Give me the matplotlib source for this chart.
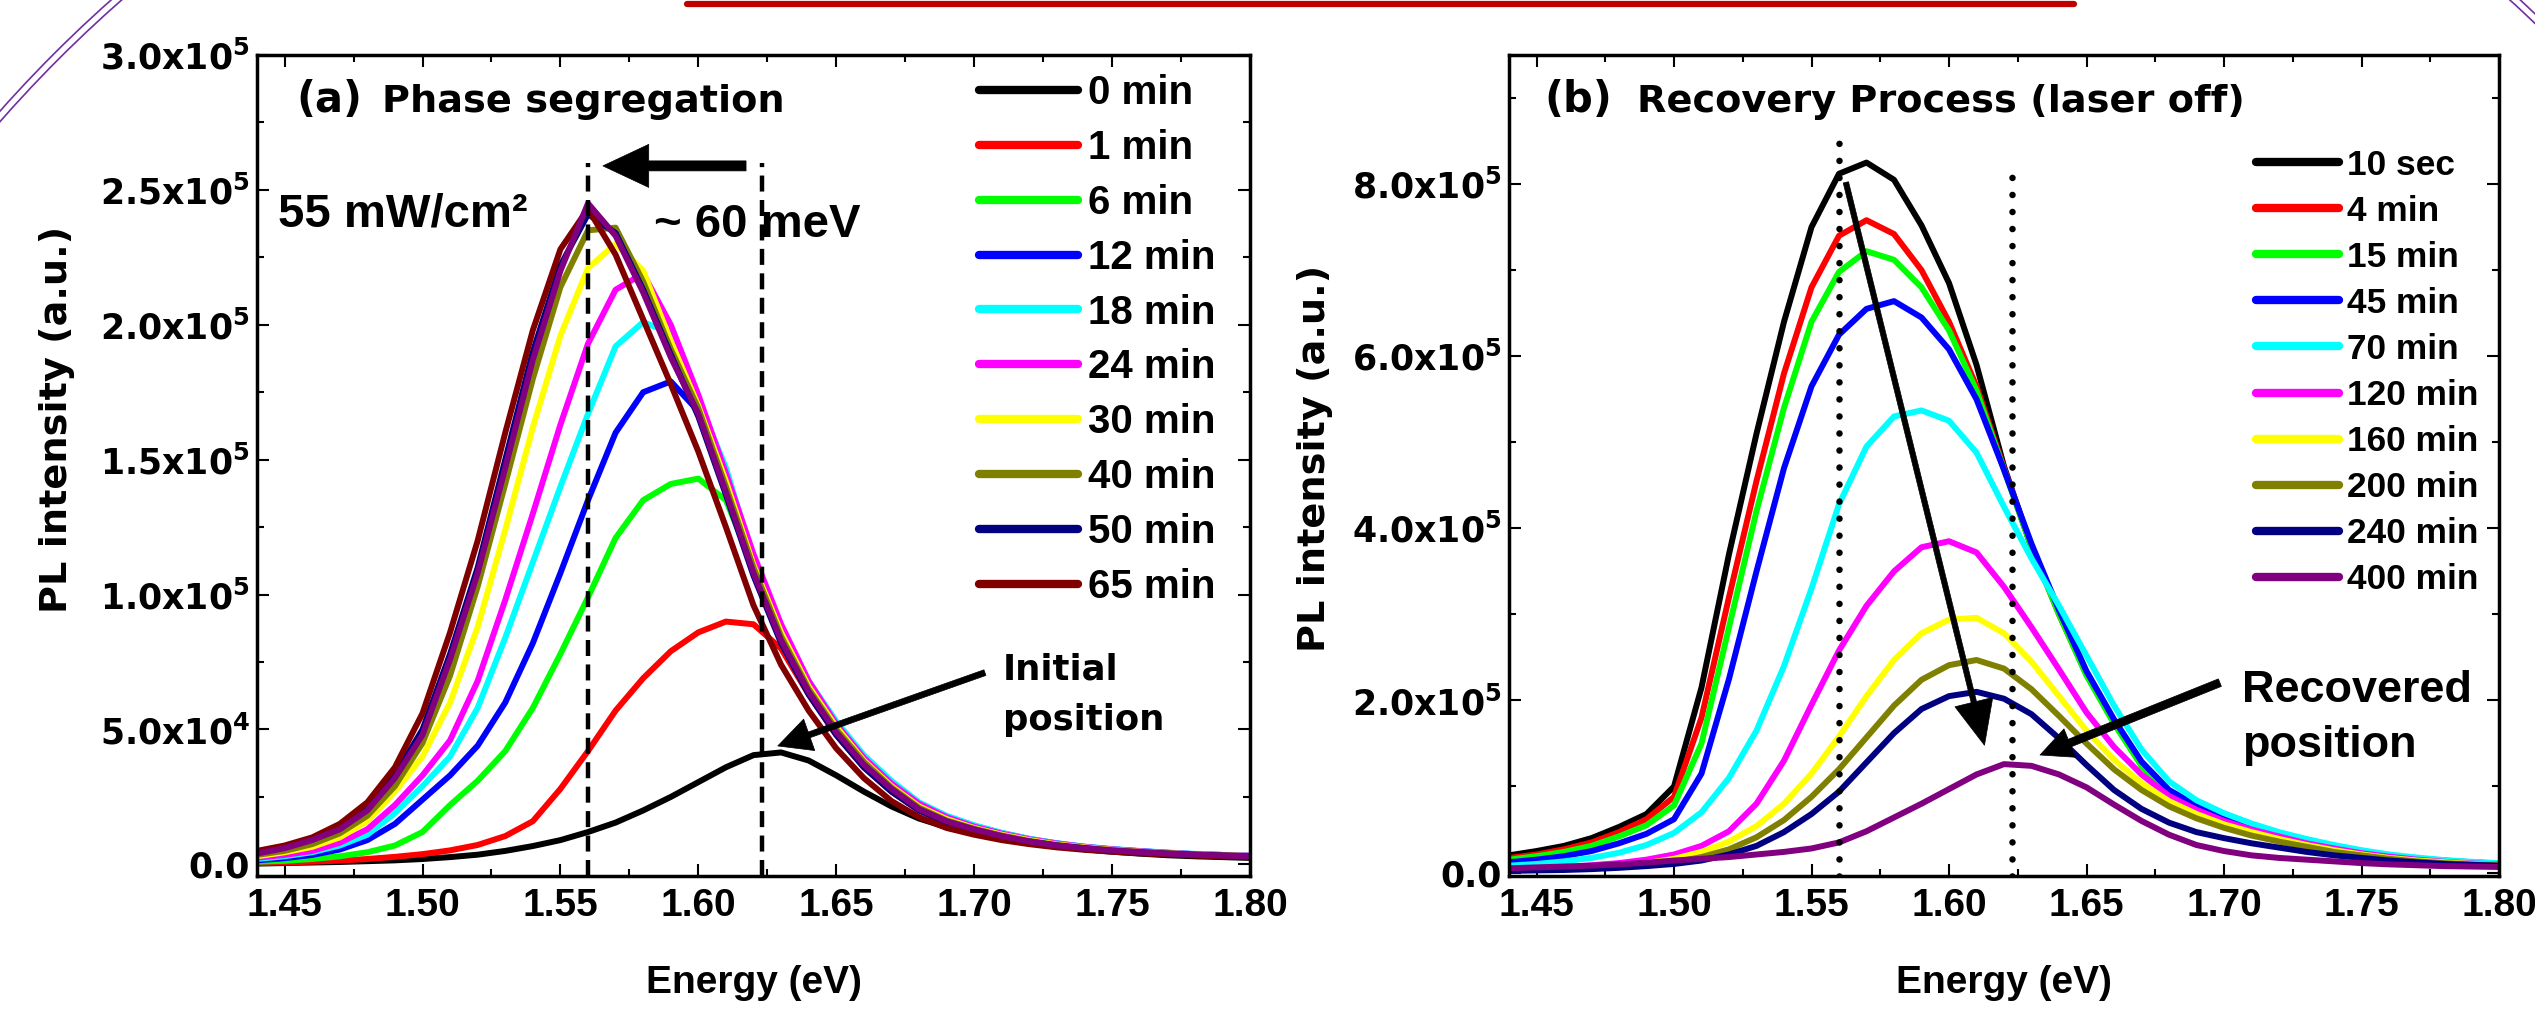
import numpy as np
import matplotlib
matplotlib.use('Agg')
import matplotlib.pyplot as plt
from matplotlib.patches import Arc
from matplotlib.lines import Line2D
from matplotlib.ticker import MultipleLocator, FuncFormatter
from matplotlib.transforms import IdentityTransform

plt.rcParams['font.family'] = ['Liberation Sans', 'DejaVu Sans']
plt.rcParams['font.weight'] = 'bold'
plt.rcParams['axes.labelweight'] = 'bold'
plt.rcParams['mathtext.fontset'] = 'dejavusans'
plt.rcParams['lines.solid_capstyle'] = 'round'

# photon energy grid (eV)
energy = [1.44, 1.45, 1.46, 1.47, 1.48, 1.49, 1.50, 1.51, 1.52, 1.53,
          1.54, 1.55, 1.56, 1.57, 1.58, 1.59, 1.60, 1.61, 1.62, 1.63,
          1.64, 1.65, 1.66, 1.67, 1.68, 1.69, 1.70, 1.71, 1.72, 1.73,
          1.74, 1.75, 1.76, 1.77, 1.78, 1.79, 1.80]

# (a) phase segregation under illumination, PL in units of 1e3 counts
seg_labels = ['0 min', '1 min', '6 min', '12 min', '18 min', '24 min',
              '30 min', '40 min', '50 min', '65 min']
seg_colors = ['#000000', '#FF0000', '#00FF00', '#0000FF', '#00FFFF',
              '#FF00FF', '#FFFF00', '#808000', '#000080', '#800000']
seg_0 = [0.3, 0.5, 0.7, 0.9, 1.2, 1.5, 2.0, 2.7, 3.6, 5.0, 6.8, 9.0, 12.0, 15.5,
         20.0, 25.0, 30.5, 36.0, 40.5, 41.5, 38.5, 33.0, 27.0, 21.5, 17.0, 13.8,
         11.5, 9.5, 8.0, 6.7, 5.6, 4.7, 4.0, 3.4, 3.0, 2.7, 2.4]
seg_1 = [0.5, 0.7, 1.0, 1.4, 2.0, 2.8, 3.8, 5.2, 7.2, 10.5, 16, 28, 42, 57, 69,
         79, 86, 90, 89, 80, 63, 48, 36, 27, 20, 15.5, 12.5, 10, 8.3, 7, 6, 5,
         4.4, 3.9, 3.5, 3.2, 3.0]
seg_6 = [1.0, 1.3, 2.0, 3.0, 4.5, 7.0, 12, 22, 31, 42, 58, 78, 99, 121, 135,
         141, 143, 135, 110, 85, 65.5, 50.5, 38, 29, 21.5, 16.7, 13.4, 10.8,
         8.8, 7.3, 6.2, 5.3, 4.7, 4.1, 3.7, 3.4, 3.1]
seg_12 = [1.5, 2.3, 3.5, 5.5, 9, 15, 24, 33, 44, 60, 82, 108, 135, 160, 175,
          179, 168, 144, 112, 87.5, 67.5, 52.5, 40, 30.5, 22.7, 17.8, 14.3,
          11.6, 9.4, 7.8, 6.5, 5.6, 4.9, 4.3, 3.8, 3.5, 3.2]
seg_18 = [2, 3, 4.5, 7, 11, 19, 29, 40, 58, 84, 112, 140, 167, 192, 201, 197,
          172, 147, 113, 88, 68, 53, 40.5, 31, 23, 18, 14.5, 11.7, 9.5, 7.8,
          6.6, 5.7, 5.0, 4.4, 3.9, 3.5, 3.2]
seg_24 = [2.5, 3.5, 5, 8, 13, 22, 33, 46, 68, 98, 130, 163, 193, 213, 219, 200,
          174, 145, 115, 89, 68, 52, 39.5, 30, 22.5, 17.5, 14, 11.4, 9.3, 7.7,
          6.5, 5.6, 4.9, 4.3, 3.8, 3.5, 3.2]
seg_30 = [3, 4.5, 6.5, 10, 16, 27, 40, 60, 88, 124, 162, 196, 221, 230, 220,
          194, 170, 142, 111, 86, 66, 51, 38.5, 29, 21.5, 16.8, 13.5, 11, 9,
          7.4, 6.3, 5.4, 4.7, 4.1, 3.7, 3.4, 3.1]
seg_40 = [3.5, 5, 7.5, 11.5, 18, 29, 45, 70, 103, 141, 180, 214, 235, 236, 216,
          191, 169, 140, 110, 84.5, 65, 50, 38, 28.5, 21, 16.3, 13.2, 10.7,
          8.7, 7.2, 6.1, 5.3, 4.6, 4.1, 3.7, 3.3, 3.0]
seg_50 = [4.5, 6.5, 9.5, 14, 21, 33, 50, 78, 110, 150, 190, 222, 241, 234, 213,
          189, 166, 137, 107, 82, 63, 48, 36, 27, 20, 15.5, 12.5, 10, 8.5, 7,
          6, 5, 4.5, 4, 3.6, 3.3, 3.0]
seg_65 = [5, 7, 10, 15, 23, 36, 56, 86, 120, 160, 198, 228, 243, 226, 202, 178,
          153, 125, 96, 74, 57, 43, 32, 23.5, 17.5, 13.5, 11, 9, 7.5, 6.3, 5.4,
          4.7, 4.1, 3.7, 3.3, 3.0, 2.8]
seg_extra = [4, 6, 9, 13, 20, 32, 48, 76, 108, 147, 187, 220, 245, 233, 212,
             188, 167, 138, 108, 83, 64, 49, 37, 28, 20.5, 16, 13, 10.5, 8.5,
             7, 6, 5.2, 4.6, 4, 3.6, 3.3, 3.0]
seg_series = [seg_0, seg_1, seg_6, seg_12, seg_18, seg_24, seg_30, seg_40,
              seg_50, seg_65]

# (b) recovery in the dark, PL in units of 1e3 counts
rec_labels = ['10 sec', '4 min', '15 min', '45 min', '70 min', '120 min',
              '160 min', '200 min', '240 min', '400 min']
rec_colors = ['#000000', '#FF0000', '#00FF00', '#0000FF', '#00FFFF',
              '#FF00FF', '#FFFF00', '#808000', '#000080', '#800080']
rec_10s = [20, 25, 31, 40, 53, 68, 100, 215, 370, 510, 640, 750, 812, 825, 805,
           752, 685, 590, 472, 378, 302, 232, 176, 127, 94, 76, 63, 52, 43, 36,
           29, 23, 19, 16, 13.5, 11.5, 10]
rec_4 = [17, 21, 27, 35, 47, 62, 88, 180, 320, 455, 580, 680, 740, 758, 742,
         700, 640, 565, 470, 378, 300, 230, 174, 125, 93, 75, 62, 51, 42, 35,
         28, 22.5, 18.5, 15.5, 13, 11, 9.5]
rec_15 = [15, 19, 24, 31, 42, 55, 78, 150, 285, 420, 540, 640, 698, 722, 712,
          680, 630, 560, 468, 378, 300, 229, 173, 124, 92, 74, 61, 50, 41.5,
          34.5, 27.5, 22, 18, 15, 12.8, 10.8, 9.3]
rec_45 = [12, 15, 19, 25, 34, 45, 62, 115, 225, 350, 470, 565, 625, 655, 664,
          645, 608, 550, 468, 382, 305, 234, 178, 129, 96, 78, 64, 53, 44, 36.5,
          29.5, 23.5, 19.5, 16.5, 14, 12, 10.5]
rec_70 = [8, 10, 13, 17, 23, 32, 46, 70, 110, 165, 240, 330, 428, 495, 530, 537,
          525, 488, 425, 365, 310, 252, 194, 143, 106, 84, 69, 57, 47, 39, 32,
          26, 21, 17.5, 14.5, 12.5, 11]
rec_120 = [4, 5, 6.5, 8.5, 11, 15, 21, 31, 48, 80, 130, 195, 258, 310, 350, 378,
           385, 372, 332, 285, 236, 186, 146, 114, 89, 73, 60, 50, 42, 34, 28,
           22.5, 18.5, 15, 12.5, 10.5, 9.5]
rec_160 = [3, 3.5, 4.5, 6, 8, 11, 16, 24, 36, 54, 80, 115, 158, 205, 247, 278,
           294, 296, 278, 245, 205, 165, 131, 104, 83, 68, 56, 47, 39, 32, 26,
           21, 17, 14, 12, 10, 9]
rec_200 = [2.5, 3, 3.8, 5, 6.5, 9, 12, 18, 27, 41, 61, 88, 120, 157, 194, 224,
           241, 247, 237, 213, 182, 150, 120, 96, 77, 63, 52, 43, 36, 30, 24,
           20, 16, 13, 11, 9.5, 8.5]
rec_240 = [2, 2.5, 3, 4, 5.5, 7.5, 10, 14, 21, 31, 47, 68, 94, 128, 162, 190,
           205, 210, 202, 184, 156, 125, 96, 74, 58, 47, 40, 34, 29, 24, 20, 17,
           14, 12, 10, 9, 8]
rec_400 = [5, 6, 7, 8, 9.5, 11.5, 14, 16, 18, 21, 24, 28, 35, 48, 64, 80, 97,
           114, 126, 124, 114, 99, 79, 60, 44, 32, 25, 20, 17, 15, 13, 11, 9.5,
           8.5, 7.5, 7, 6.5]
rec_series = [rec_10s, rec_4, rec_15, rec_45, rec_70, rec_120, rec_160,
              rec_200, rec_240, rec_400]

# guide energies (eV): shifted and initial peak positions
guide_e = [1.56, 1.623]

E = np.array(energy)
LW = 4.3


def sci_fmt(v, pos):
    if abs(v) < 1e-9:
        return '0.0'
    e = int(np.floor(np.log10(abs(v)) + 1e-9))
    m = v / 10 ** e
    return r'%.1fx10$^{\mathbf{%d}}$' % (m, e)


def style_axes(ax, ymajor, yminor):
    ax.set_xlim(1.44, 1.80)
    ax.xaxis.set_major_locator(MultipleLocator(0.05))
    ax.xaxis.set_minor_locator(MultipleLocator(0.025))
    ax.xaxis.set_major_formatter(FuncFormatter(lambda v, p: '%.2f' % v))
    ax.yaxis.set_major_locator(MultipleLocator(ymajor))
    ax.yaxis.set_minor_locator(MultipleLocator(yminor))
    ax.yaxis.set_major_formatter(FuncFormatter(sci_fmt))
    for s in ax.spines.values():
        s.set_linewidth(2.5)
    ax.tick_params(which='both', direction='in', top=True, right=True, width=1.5)
    ax.tick_params(which='major', length=8.5)
    ax.tick_params(which='minor', length=5)
    ax.tick_params(axis='x', labelsize=28, pad=9, labelfontfamily='Liberation Sans')
    ax.tick_params(axis='y', labelsize=25, pad=5, labelfontfamily='DejaVu Sans')
    ax.set_xlabel('Energy (eV)', fontsize=28, family='Liberation Sans')
    ax.xaxis.set_label_coords(0.5, -0.108)
    ax.set_ylabel('PL intensity (a.u.)', fontsize=27.5, family='DejaVu Sans')


def arrow(ax, tail, head, hl, hw, tw):
    ax.annotate('', xy=head, xytext=tail, zorder=6,
                arrowprops=dict(arrowstyle='simple,head_length=%g,head_width=%g,tail_width=%g'
                                % (hl, hw, tw), mutation_scale=1, fc='k', ec='k',
                                lw=0.5, shrinkA=0, shrinkB=0))


fig = plt.figure(figsize=(25.35, 10.10), dpi=100)
ax1 = fig.add_axes([257 / 2535, 134 / 1010, 993 / 2535, 821 / 1010])
ax2 = fig.add_axes([1509 / 2535, 134 / 1010, 990 / 2535, 821 / 1010])

# ---- (a) phase segregation
for vals, lab, col in zip(seg_series, seg_labels, seg_colors):
    ax1.plot(E, np.array(vals) * 1e3, color=col, lw=LW, label=lab)
ax1.plot(E, np.array(seg_extra) * 1e3, color='#800080', lw=LW, label='_nolegend_')
ax1.set_ylim(-4300, 300000)
style_axes(ax1, 50000, 25000)
ax1.yaxis.set_label_coords(-0.1833, 0.5566)

for x in guide_e:
    ax1.plot([x, x], [-4300, 2.6e5], color='k', lw=3.2, ls=(0, (3.6, 1.9)), zorder=5)
arrow(ax1, (1.6173, 2.589e5), (1.5654, 2.589e5), 33, 31, 7.2)
arrow(ax1, (1.7039, 7.108e4), (1.6288, 4.39e4), 24, 24, 4.3)

ax1.text(0.0393, 0.9306, '(a)', transform=ax1.transAxes, fontsize=30,
         family='DejaVu Sans', va='baseline')
ax1.text(0.1259, 0.9306, 'Phase segregation', transform=ax1.transAxes,
         fontsize=27.5, family='DejaVu Sans', va='baseline')
ax1.text(1.4476, 2.3626e5, '55 mW/cm²', fontsize=34, va='baseline', zorder=6)
ax1.text(1.5839, 2.3255e5, '~ 60 meV', fontsize=34, va='baseline', zorder=6)
ax1.text(1.7105, 6.837e4, 'Initial', fontsize=25.5, family='DejaVu Sans',
         va='baseline', zorder=6)
ax1.text(1.7105, 4.984e4, 'position', fontsize=25.5, family='DejaVu Sans',
         va='baseline', zorder=6)

leg1 = ax1.legend(loc='upper left', bbox_to_anchor=(0.727, 0.977), frameon=False,
                  prop={'family': 'Liberation Sans', 'weight': 'bold', 'size': 29},
                  handlelength=2.45, handletextpad=0.25, labelspacing=0.42,
                  borderpad=0, borderaxespad=0)
for h in leg1.get_lines():
    h.set_linewidth(6)

# ---- (b) recovery with laser off
for vals, lab, col in zip(rec_series, rec_labels, rec_colors):
    ax2.plot(E, np.array(vals) * 1e3, color=col, lw=LW, label=lab)
ax2.set_ylim(-4000, 950000)
style_axes(ax2, 200000, 100000)
ax2.yaxis.set_label_coords(-0.1778, 0.5091)

for x, top in zip(guide_e, [8.55e5, 8.25e5]):
    ax2.plot([x, x], [-4000, top], color='k', lw=4.7, ls=(0, (0.01, 2.6)),
             dash_capstyle='round', zorder=5)
arrow(ax2, (1.5625, 8.02e5), (1.6129, 1.479e5), 32, 28, 3.9)
arrow(ax2, (1.6985, 2.207e5), (1.6331, 1.366e5), 23, 22, 5.8)

ax2.text(0.0354, 0.9306, '(b)', transform=ax2.transAxes, fontsize=30,
         family='DejaVu Sans', va='baseline')
ax2.text(0.1293, 0.9306, 'Recovery Process (laser off)', transform=ax2.transAxes,
         fontsize=27.5, family='DejaVu Sans', va='baseline')
ax2.text(1.7065, 1.981e5, 'Recovered', fontsize=32.4, va='baseline', zorder=6)
ax2.text(1.7065, 1.342e5, 'position', fontsize=32.4, va='baseline', zorder=6)

leg2 = ax2.legend(loc='upper left', bbox_to_anchor=(0.7545, 0.886), frameon=False,
                  prop={'family': 'Liberation Sans', 'weight': 'bold', 'size': 25.4},
                  handlelength=2.35, handletextpad=0.23, labelspacing=0.37,
                  borderpad=0, borderaxespad=0)
for h in leg2.get_lines():
    h.set_linewidth(6)

# slide trim: red rule along the top and purple corner arcs
fig.add_artist(Line2D([687 / 2535, 2074 / 2535], [1 - 4 / 1010, 1 - 4 / 1010],
                      transform=fig.transFigure, color='#C00000', lw=4.5))
for r in (1331, 1338):
    fig.add_artist(Arc((1000, 10), 2 * r, 2 * r, theta1=126, theta2=144,
                       transform=IdentityTransform(), color='#7030A0', lw=1.2))
for r in (1352, 1359):
    fig.add_artist(Arc((1600, 10), 2 * r, 2 * r, theta1=43, theta2=50,
                       transform=IdentityTransform(), color='#7030A0', lw=1.2))

fig.savefig('out.png', dpi=100)
